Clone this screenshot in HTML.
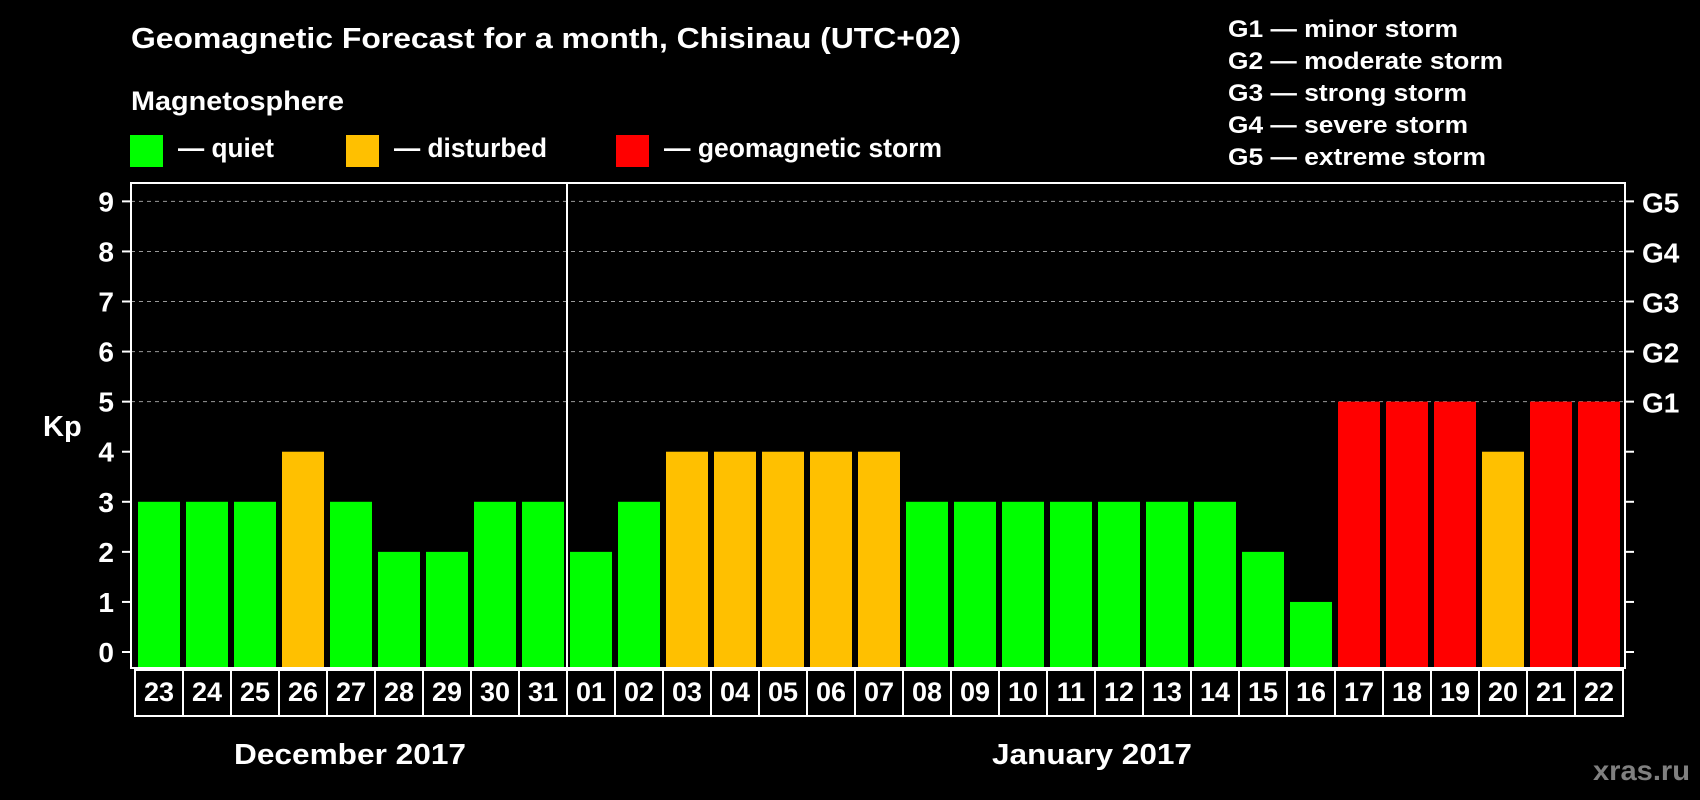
<!DOCTYPE html>
<html><head><meta charset="utf-8"><style>
html,body{margin:0;padding:0;background:#000;}
svg{display:block;font-family:"Liberation Sans",Arial,sans-serif;font-weight:bold;}
</style></head><body>
<svg id="chart" width="1700" height="800" viewBox="0 0 1700 800" xmlns="http://www.w3.org/2000/svg">
<rect x="0" y="0" width="1700" height="800" fill="#000"/>
<text x="131" y="48" fill="#fff" font-size="29" textLength="830" lengthAdjust="spacingAndGlyphs">Geomagnetic Forecast for a month, Chisinau (UTC+02)</text>
<text x="131" y="110" fill="#fff" font-size="27" textLength="213" lengthAdjust="spacingAndGlyphs">Magnetosphere</text>
<g>
<rect x="130" y="135" width="33" height="32" fill="#00ff00"/>
<text x="178" y="157" fill="#fff" font-size="27" textLength="96" lengthAdjust="spacingAndGlyphs">— quiet</text></g>
<g>
<rect x="346" y="135" width="33" height="32" fill="#ffc000"/>
<text x="394" y="157" fill="#fff" font-size="27" textLength="153" lengthAdjust="spacingAndGlyphs">— disturbed</text></g>
<g>
<rect x="616" y="135" width="33" height="32" fill="#ff0000"/>
<text x="664" y="157" fill="#fff" font-size="27" textLength="278" lengthAdjust="spacingAndGlyphs">— geomagnetic storm</text></g>
<g fill="#fff" font-size="24">
<text x="1228" y="37" textLength="230" lengthAdjust="spacingAndGlyphs">G1 — minor storm</text>
<text x="1228" y="69" textLength="275" lengthAdjust="spacingAndGlyphs">G2 — moderate storm</text>
<text x="1228" y="101" textLength="239" lengthAdjust="spacingAndGlyphs">G3 — strong storm</text>
<text x="1228" y="133" textLength="240" lengthAdjust="spacingAndGlyphs">G4 — severe storm</text>
<text x="1228" y="165" textLength="258" lengthAdjust="spacingAndGlyphs">G5 — extreme storm</text>
</g>
<g id="grid"></g>
<g id="bars"></g>
<g id="axes"></g>
<text x="43" y="436" fill="#fff" font-size="29">Kp</text>
<text x="350" y="764" fill="#fff" font-size="29" text-anchor="middle" textLength="232" lengthAdjust="spacingAndGlyphs">December 2017</text>
<text x="1092" y="764" fill="#fff" font-size="29" text-anchor="middle" textLength="200" lengthAdjust="spacingAndGlyphs">January 2017</text>
<text x="1690" y="780" fill="#808080" font-size="28" text-anchor="end" textLength="97" lengthAdjust="spacingAndGlyphs">xras.ru</text>
</svg>
<script>
const days = ["23","24","25","26","27","28","29","30","31","01","02","03","04","05","06","07","08","09","10","11","12","13","14","15","16","17","18","19","20","21","22"];
const kpValues = [3,3,3,4,3,2,2,3,3,2,3,4,4,4,4,4,3,3,3,3,3,3,3,2,1,5,5,5,4,5,5];
const yTicks = [0,1,2,3,4,5,6,7,8,9];
const gLabels = ["G1","G2","G3","G4","G5"];
const gLevels = [5,6,7,8,9];
const monthBreakIndex = 9;

const NS = "http://www.w3.org/2000/svg";
const plotL = 131, plotR = 1625, plotT = 183, plotB = 668;
const cellL = 135, cellW = 48, y0 = 652, unit = 50.07;
function yScale(v){ return y0 - v*unit; }
function xScale(i){ return cellL + i*cellW; }
function mk(tag, attrs, parent){ const e=document.createElementNS(NS,tag); for(const k in attrs) e.setAttribute(k,attrs[k]); parent.appendChild(e); return e; }
function color(v){ return v>=5 ? "#ff0000" : (v>=4 ? "#ffc000" : "#00ff00"); }

const grid = document.getElementById("grid"), bars = document.getElementById("bars"), axes = document.getElementById("axes");
gLevels.forEach(function(v){
  const l = mk("line",{x1:plotL,x2:plotR,y1:yScale(v),y2:yScale(v),stroke:"#999","stroke-width":1,"stroke-dasharray":"4,4"},grid);
  
  
});
kpValues.forEach(function(v,i){
  const r = mk("rect",{x:xScale(i)+3,y:yScale(v),width:42,height:plotB-yScale(v),fill:color(v)},bars);
  
  
});
const frame = mk("rect",{x:plotL,y:plotT,width:plotR-plotL,height:plotB-plotT,fill:"none",stroke:"#fff","stroke-width":2},axes);


const sep = mk("line",{x1:xScale(monthBreakIndex),x2:xScale(monthBreakIndex),y1:plotT,y2:plotB,stroke:"#fff","stroke-width":2},axes);


yTicks.forEach(function(v){
  const t = mk("line",{x1:plotL-9,x2:plotL,y1:yScale(v),y2:yScale(v),stroke:"#fff","stroke-width":2},axes);
  
  
  const t2 = mk("line",{x1:plotR,x2:plotR+9,y1:yScale(v),y2:yScale(v),stroke:"#fff","stroke-width":2},axes);
  
  
  const lb = mk("text",{x:114,y:yScale(v)+10,fill:"#fff","font-size":28,"text-anchor":"end"},axes);
  lb.textContent = v;
  
  
});
gLabels.forEach(function(g,i){
  const lb = mk("text",{x:1642,y:yScale(gLevels[i])+11,fill:"#fff","font-size":28},axes);
  lb.textContent = g;
  
  
});
days.forEach(function(d,i){
  const c = mk("rect",{x:xScale(i),y:plotB+2,width:cellW,height:716-plotB-2,fill:"none",stroke:"#fff","stroke-width":2},axes);
  
  
  const t = mk("text",{x:xScale(i)+cellW/2,y:701,fill:"#fff","font-size":27,"text-anchor":"middle"},axes);
  t.textContent = d;
  
  
});
</script>
</body></html>
